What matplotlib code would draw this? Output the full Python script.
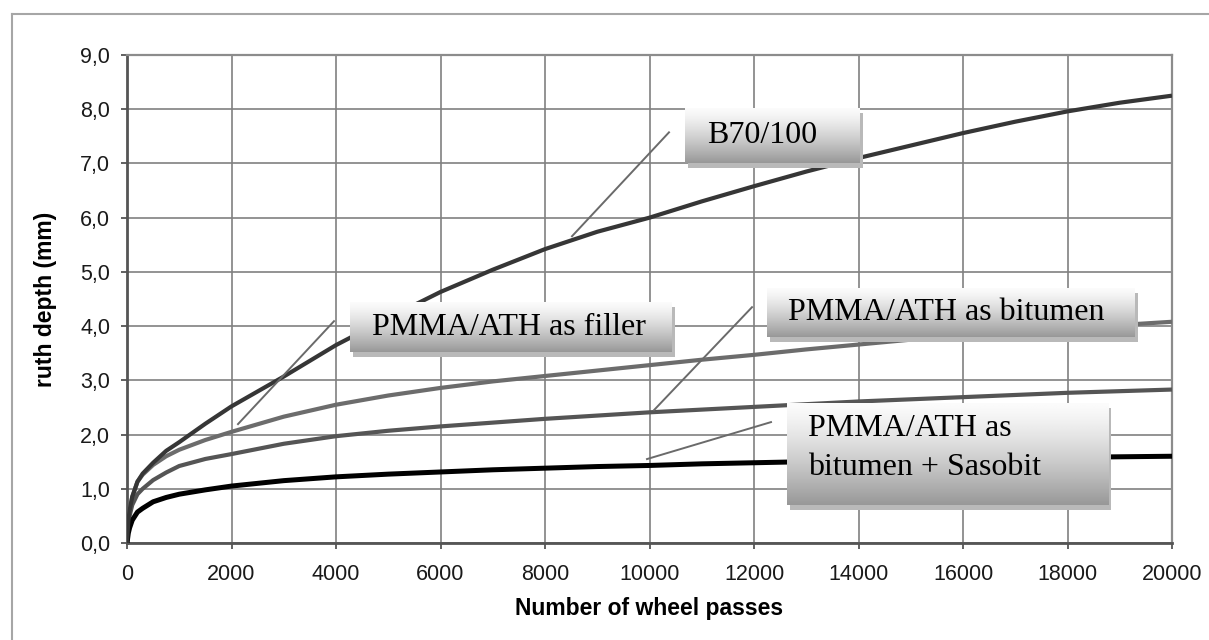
import numpy as np
import matplotlib
matplotlib.use("Agg")
import matplotlib.pyplot as plt
from matplotlib.patches import Rectangle
from matplotlib.lines import Line2D

# ---------------- data ----------------
passes = [0, 25, 50, 100, 200, 300, 500, 750, 1000, 1500, 2000, 3000, 4000, 5000,
          6000, 7000, 8000, 9000, 10000, 11000, 12000, 13000, 14000, 15000, 16000,
          17000, 18000, 19000, 20000]

b70_100 = [0, 0.40, 0.60, 0.85, 1.13, 1.28, 1.48, 1.70, 1.86, 2.20, 2.52, 3.07, 3.65,
           4.15, 4.63, 5.04, 5.42, 5.74, 6.00, 6.30, 6.58, 6.85, 7.10, 7.33, 7.56,
           7.77, 7.96, 8.12, 8.25]
filler = [0, 0.40, 0.60, 0.85, 1.13, 1.26, 1.44, 1.60, 1.72, 1.90, 2.05, 2.33, 2.55,
          2.72, 2.86, 2.98, 3.08, 3.18, 3.28, 3.38, 3.47, 3.57, 3.66, 3.75, 3.83,
          3.90, 3.96, 4.02, 4.08]
bitumen = [0, 0.30, 0.50, 0.70, 0.90, 1.00, 1.16, 1.30, 1.42, 1.55, 1.64, 1.83, 1.97,
           2.07, 2.15, 2.22, 2.29, 2.35, 2.41, 2.46, 2.51, 2.56, 2.61, 2.65, 2.69,
           2.73, 2.77, 2.80, 2.83]
sasobit = [0, 0.18, 0.28, 0.42, 0.57, 0.64, 0.76, 0.84, 0.90, 0.98, 1.05, 1.15, 1.22,
           1.27, 1.31, 1.35, 1.38, 1.41, 1.43, 1.46, 1.48, 1.50, 1.52, 1.54, 1.56,
           1.57, 1.58, 1.59, 1.60]

x_ticks = [0, 2000, 4000, 6000, 8000, 10000, 12000, 14000, 16000, 18000, 20000]
x_ticklabels = ["0", "2000", "4000", "6000", "8000", "10000", "12000", "14000",
                "16000", "18000", "20000"]
y_ticks = [0, 1, 2, 3, 4, 5, 6, 7, 8, 9]
y_ticklabels = ["0,0", "1,0", "2,0", "3,0", "4,0", "5,0", "6,0", "7,0", "8,0", "9,0"]

series_names = ["B70/100", "PMMA/ATH as filler", "PMMA/ATH as bitumen",
                "PMMA/ATH as\nbitumen + Sasobit"]

# ---------------- figure ----------------
W, H = 1209, 640
fig = plt.figure(figsize=(W / 100, H / 100), dpi=100)
ax = fig.add_axes([127 / W, 1 - 543 / H, (1172 - 127) / W, (543 - 55) / H])

sans = ["Liberation Sans", "DejaVu Sans"]
serif = ["Liberation Serif", "DejaVu Serif"]

ax.plot(passes, b70_100, color="#363636", lw=3.0, zorder=4, solid_capstyle="butt")
ax.plot(passes, filler, color="#6c6c6c", lw=3.0, zorder=3, solid_capstyle="butt")
ax.plot(passes, bitumen, color="#555555", lw=3.0, zorder=3, solid_capstyle="butt")
ax.plot(passes, sasobit, color="#000000", lw=3.6, zorder=3, solid_capstyle="butt")

ax.set_xlim(0, 20000)
ax.set_ylim(0, 9)
ax.set_xticks(x_ticks)
ax.set_xticklabels(x_ticklabels, family=sans, fontsize=15.5, color="#1a1a1a")
ax.set_yticks(y_ticks)
ax.set_yticklabels(y_ticklabels, family=sans, fontsize=15.5, color="#1a1a1a")
ax.tick_params(axis="both", direction="out", length=4, width=1.3, color="#555555")
ax.tick_params(axis="x", pad=11)
ax.tick_params(axis="y", pad=8)

ax.grid(True, color="#808080", lw=1.2, zorder=1)
ax.set_axisbelow(True)
for side in ["left", "bottom"]:
    ax.spines[side].set_color("#555555")
    ax.spines[side].set_linewidth(2.0)
for side in ["top", "right"]:
    ax.spines[side].set_color("#8c8c8c")
    ax.spines[side].set_linewidth(1.6)

ax.set_xlabel("Number of wheel passes", family=sans, fontsize=16.5,
              fontweight="bold", labelpad=9)
ax.set_ylabel("ruth depth (mm)", family=sans, fontsize=16.5,
              fontweight="bold", labelpad=17)

# ---------------- callouts ----------------
def px2x(px):
    return (px - 127) / 1045 * 20000

def py2y(py):
    return (543 - py) / (488.4 / 9)

grad = np.linspace(0, 1, 256) ** 1.3
grad = (0.985 - 0.39 * grad).reshape(-1, 1)

def callout(box, texts, leader):
    x0, y0, x1, y1 = box  # pixel coords (left, top, right, bottom)
    ax.add_patch(Rectangle((px2x(x0 + 3), py2y(y1 + 5)),
                           px2x(x1 + 3) - px2x(x0 + 3), py2y(y0 + 5) - py2y(y1 + 5),
                           facecolor="#b9b9b9", edgecolor="none", zorder=6))
    ax.imshow(grad, cmap="gray", vmin=0, vmax=1, aspect="auto", origin="upper",
              extent=[px2x(x0), px2x(x1), py2y(y1), py2y(y0)], zorder=7,
              interpolation="bilinear")
    for (tx, ty, s) in texts:
        ax.text(px2x(tx), py2y(ty), s, family=serif, fontsize=23,
                ha="left", va="center", zorder=8, color="#000000")
    (lx0, ly0), (lx1, ly1) = leader
    ax.plot([px2x(lx0), px2x(lx1)], [py2y(ly0), py2y(ly1)], color="#6a6a6a",
            lw=1.4, zorder=5)

callout((685, 108, 860, 163), [(707, 135, series_names[0])],
        ((572, 236), (669, 132)))
callout((350, 302, 672, 352), [(372, 327, series_names[1])],
        ((238, 424), (334, 321)))
callout((767, 288, 1135, 337), [(788, 312, series_names[2])],
        ((654, 410), (752, 307)))
l1, l2 = series_names[3].split("\n")
callout((787, 403, 1108, 505), [(808, 428, l1), (808, 467, l2)],
        ((647, 459), (771, 422)))

ax.set_xlim(0, 20000)
ax.set_ylim(0, 9)

# outer frame (clipped at right/bottom)
fx = 11.5 / W
fy = 1 - 14 / H
fig.add_artist(Line2D([fx, fx], [0, fy], transform=fig.transFigure,
                      color="#a6a6a6", lw=1.5))
fig.add_artist(Line2D([fx, 1], [fy, fy], transform=fig.transFigure,
                      color="#a6a6a6", lw=1.5))

fig.savefig("out.png", dpi=100)
